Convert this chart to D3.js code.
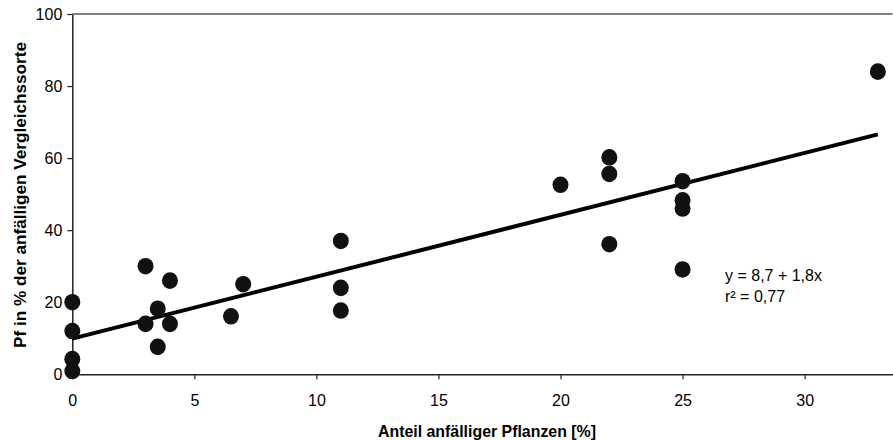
<!DOCTYPE html>
<html>
<head>
<meta charset="utf-8">
<script src="https://cdn.jsdelivr.net/npm/d3@7"></script>
<style>
  html, body { margin: 0; padding: 0; background: #fff; }
  svg { display: block; font-family: "Liberation Sans", Arial, sans-serif; }
</style>
</head>
<body>
<svg id="chart" width="893" height="440"></svg>
<script>
// Data
const xValues = [0, 0, 0, 0, 3, 3, 3.5, 3.5, 4, 4, 6.5, 7, 11, 11, 11, 20, 22, 22, 22, 25, 25, 25, 25, 33];
const yValues = [20, 12, 4.2, 0.9, 30, 14, 18.2, 7.6, 26, 14, 16.1, 25, 37, 24, 17.7, 52.6, 60.2, 55.6, 36.1, 53.6, 48.3, 46, 29.1, 84];
const lineX = [0, 33];
const lineY = [9.9, 66.6];
const xTicks = [0, 5, 10, 15, 20, 25, 30];
const yTicks = [0, 20, 40, 60, 80, 100];
const xTitle = "Anteil anfälliger Pflanzen [%]";
const yTitle = "Pf in % der anfälligen Vergleichssorte";
const equationLines = ["y = 8,7 + 1,8x", "r² = 0,77"];

(function () {
const svg = d3.select("#chart");
const mLeft = 72.3, mTop = 14, mBottom = 374.3, mRight = 892.5;

const x = d3.scaleLinear().domain([0, 33.6]).range([mLeft, mRight]);
const y = d3.scaleLinear().domain([0, 100]).range([mBottom, mTop]);

// top border line
svg.append("line")
  .attr("x1", mLeft).attr("x2", mRight)
  .attr("y1", y(100)).attr("y2", y(100))
  .attr("stroke", "#808080").attr("stroke-width", 2);

// axes
const xAxis = svg.append("g").attr("transform", `translate(0,${mBottom})`)
  .call(d3.axisBottom(x).tickValues(xTicks).tickSize(5).tickSizeOuter(0).tickPadding(15).tickFormat(d3.format("d")));
const yAxis = svg.append("g").attr("transform", `translate(${mLeft},0)`)
  .call(d3.axisLeft(y).tickValues(yTicks).tickSize(5).tickSizeOuter(0).tickPadding(5).tickFormat(d3.format("d")));

[xAxis, yAxis].forEach(g => {
  g.select(".domain").attr("stroke", "#222").attr("stroke-width", 1.5);
  g.selectAll(".tick line").attr("stroke", "#222").attr("stroke-width", 1.2);
  g.selectAll(".tick text").attr("fill", "#000").attr("font-size", 16)
    .attr("font-family", "Liberation Sans, Arial, sans-serif");
});

// regression line
svg.append("line")
  .attr("x1", x(lineX[0])).attr("y1", y(lineY[0]))
  .attr("x2", x(lineX[1])).attr("y2", y(lineY[1]))
  .attr("stroke", "#000").attr("stroke-width", 4);

// points
svg.append("g").selectAll("ellipse")
  .data(xValues.map((v, i) => ({ x: v, y: yValues[i] })))
  .join("ellipse")
  .attr("cx", d => x(d.x)).attr("cy", d => y(d.y))
  .attr("rx", 8).attr("ry", 8.3)
  .attr("fill", "#111");

// equation
const eq = svg.append("text").attr("x", 725).attr("y", 281)
  .attr("font-size", 16).attr("fill", "#000");
equationLines.forEach((t, i) => {
  eq.append("tspan").attr("x", 725).attr("dy", i === 0 ? 0 : 20.5).text(t);
});

// axis titles
svg.append("text")
  .attr("x", 487).attr("y", 437)
  .attr("text-anchor", "middle")
  .attr("font-size", 17).attr("font-weight", "bold").attr("fill", "#000")
  .attr("textLength", 218).attr("lengthAdjust", "spacingAndGlyphs")
  .text(xTitle);

svg.append("text")
  .attr("transform", `translate(26,195) rotate(-90)`)
  .attr("text-anchor", "middle")
  .attr("font-size", 17).attr("font-weight", "bold").attr("fill", "#000")
  .attr("textLength", 306).attr("lengthAdjust", "spacingAndGlyphs")
  .text(yTitle);
})();
</script>
</body>
</html>
